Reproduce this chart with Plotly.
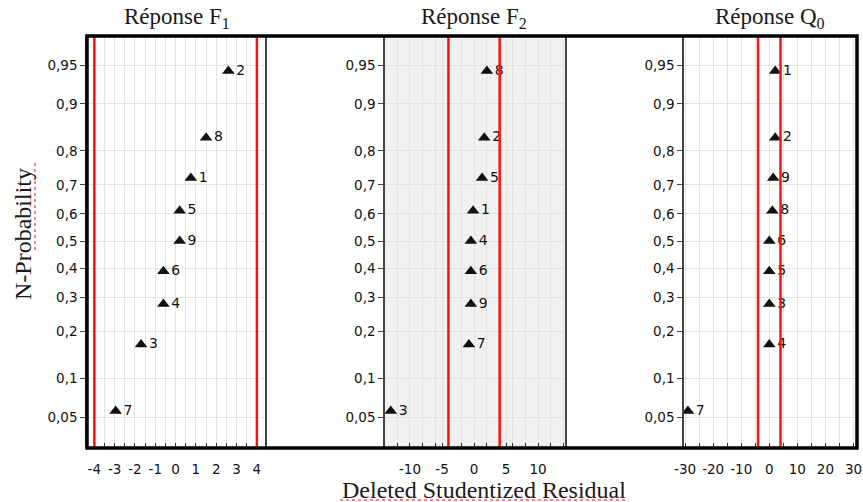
import plotly.graph_objects as go
from statistics import NormalDist

W, H = 863, 502

# ---- data ----
prob_levels = [0.056, 0.167, 0.278, 0.389, 0.5, 0.611, 0.722, 0.833, 0.944]

f1_labels = ["7", "3", "4", "6", "9", "5", "1", "8", "2"]
f1_resid = [-2.95, -1.7, -0.6, -0.6, 0.2, 0.2, 0.75, 1.5, 2.6]

f2_labels = ["3", "7", "9", "6", "4", "1", "5", "2", "8"]
f2_resid = [-13.0, -0.8, -0.5, -0.5, -0.5, -0.15, 1.25, 1.6, 2.0]

q0_labels = ["7", "4", "3", "5", "6", "8", "9", "2", "1"]
q0_resid = [-29.0, 0.0, 0.0, 0.0, 0.0, 1.1, 1.4, 2.1, 2.1]

limits = [-4, 4]

y_tick_probs = [0.05, 0.1, 0.2, 0.3, 0.4, 0.5, 0.6, 0.7, 0.8, 0.9, 0.95]
y_tick_text = ["0,05", "0,1", "0,2", "0,3", "0,4", "0,5", "0,6", "0,7", "0,8", "0,9", "0,95"]

titles = ["Réponse F<sub>1</sub>", "Réponse F<sub>2</sub>", "Réponse Q<sub>0</sub>"]

f1_ticks = [-4, -3, -2, -1, 0, 1, 2, 3, 4]
f2_ticks = [-10, -5, 0, 5, 10]
q0_ticks = [-30, -20, -10, 0, 10, 20, 30]

# ---- helpers ----
nd = NormalDist()
def z(p):
    return nd.inv_cdf(p)

yz = [z(p) for p in prob_levels]
ytv = [z(p) for p in y_tick_probs]

def px_x(a, b):
    return [a / W, b / W]

ydom = [1 - 447 / H, 1 - 37 / H]

panels = [
    dict(dom=px_x(87, 265), rng=[-4.36, 4.4], ticks=f1_ticks, minor=0.5,
         x=f1_resid, lab=f1_labels, cx=177, title=titles[0]),
    dict(dom=px_x(385, 565), rng=[-13.9, 14.2], ticks=f2_ticks, minor=2,
         x=f2_resid, lab=f2_labels, cx=474, title=titles[1]),
    dict(dom=px_x(684, 856), rng=[-30.4, 30.9], ticks=q0_ticks, minor=5,
         x=q0_resid, lab=q0_labels, cx=770, title=titles[2]),
]

fig = go.Figure()
tickfont = dict(family="DejaVu Sans, Arial", size=13.5, color="#111")
shapes = []
annotations = []

for i, p in enumerate(panels, start=1):
    xa = "x" if i == 1 else f"x{i}"
    ya = "y" if i == 1 else f"y{i}"
    fig.add_trace(go.Scatter(
        x=p["x"], y=yz, mode="markers+text", text=p["lab"],
        textposition="middle right",
        textfont=dict(family="DejaVu Sans, Arial", size=14, color="#111"),
        marker=dict(symbol="triangle-up", size=11, color="#111"),
        xaxis=xa, yaxis=ya, cliponaxis=False, showlegend=False,
        hoverinfo="skip"))
    gridcol = "#e6e2e6" if i != 2 else "#e2e2e2"
    fig.update_layout(**{
        ("xaxis" if i == 1 else f"xaxis{i}"): dict(
            domain=p["dom"], range=p["rng"], anchor=ya, automargin=False,
            tickmode="array", tickvals=p["ticks"],
            ticktext=[str(t) for t in p["ticks"]],
            ticks="inside", ticklen=4, tickcolor="#333", tickwidth=1,
            ticklabelstandoff=12,
            tickfont=tickfont, showgrid=True, gridcolor=gridcol, gridwidth=1,
            minor=dict(dtick=p["minor"], ticks="inside", ticklen=4,
                       tickcolor="#333", showgrid=True, gridcolor=gridcol),
            showline=False, zeroline=False, fixedrange=True),
        ("yaxis" if i == 1 else f"yaxis{i}"): dict(
            domain=ydom, range=[-1.925, 1.907], anchor=xa, automargin=False,
            tickmode="array", tickvals=ytv, ticktext=y_tick_text,
            ticks="outside", ticklen=5, tickcolor="#444",
            tickfont=tickfont, showgrid=True, gridcolor=gridcol,
            showline=True, linecolor="#444", linewidth=1.5, mirror=True,
            zeroline=False, fixedrange=True),
    })
    # red limit lines
    for lv in limits:
        shapes.append(dict(type="line", xref=xa, yref=f"{ya} domain",
                           x0=lv, x1=lv, y0=0, y1=1,
                           line=dict(color="#ff1010", width=2.5)))
    annotations.append(dict(text=p["title"], x=p["cx"] / W, y=1 - 18 / H,
                            xref="paper", yref="paper", showarrow=False,
                            xanchor="center", yanchor="middle",
                            font=dict(family="Liberation Serif, Times New Roman",
                                      size=23, color="#1a1a1a")))

# gray background for panel 2
shapes.insert(0, dict(type="rect", xref="x2 domain", yref="y2 domain",
                      x0=0, x1=1, y0=0, y1=1, layer="below",
                      fillcolor="#f1f1f1", line=dict(width=0)))

# outer thick frame
shapes.append(dict(type="rect", xref="paper", yref="paper",
                   x0=87 / W, x1=857 / W, y0=1 - 448 / H, y1=1 - 36 / H,
                   line=dict(color="#000", width=3.5)))

# spell-check style red dotted underlines
shapes.append(dict(type="line", xref="paper", yref="paper",
                   x0=35 / W, x1=35 / W, y0=1 - 250 / H, y1=1 - 163 / H,
                   line=dict(color="#f06060", width=1.5, dash="dot")))
shapes.append(dict(type="line", xref="paper", yref="paper",
                   x0=340 / W, x1=628 / W, y0=1 - 500 / H, y1=1 - 500 / H,
                   line=dict(color="#f06060", width=1.5, dash="dot")))

annotations.append(dict(text="N-Probability", x=23 / W, y=1 - 234 / H,
                        xref="paper", yref="paper", showarrow=False,
                        textangle=-90, xanchor="center", yanchor="middle",
                        font=dict(family="Liberation Serif, Times New Roman",
                                  size=24, color="#1a1a1a")))
annotations.append(dict(text="Deleted Studentized Residual", x=484 / W,
                        y=1 - 490 / H, xref="paper", yref="paper",
                        showarrow=False, xanchor="center", yanchor="middle",
                        font=dict(family="Liberation Serif, Times New Roman",
                                  size=24, color="#1a1a1a")))

fig.update_layout(width=W, height=H, margin=dict(l=0, r=0, t=0, b=0, autoexpand=False),
                  paper_bgcolor="white", plot_bgcolor="white",
                  shapes=shapes, annotations=annotations, showlegend=False)

fig.write_html("out.html", config={"displayModeBar": False})
